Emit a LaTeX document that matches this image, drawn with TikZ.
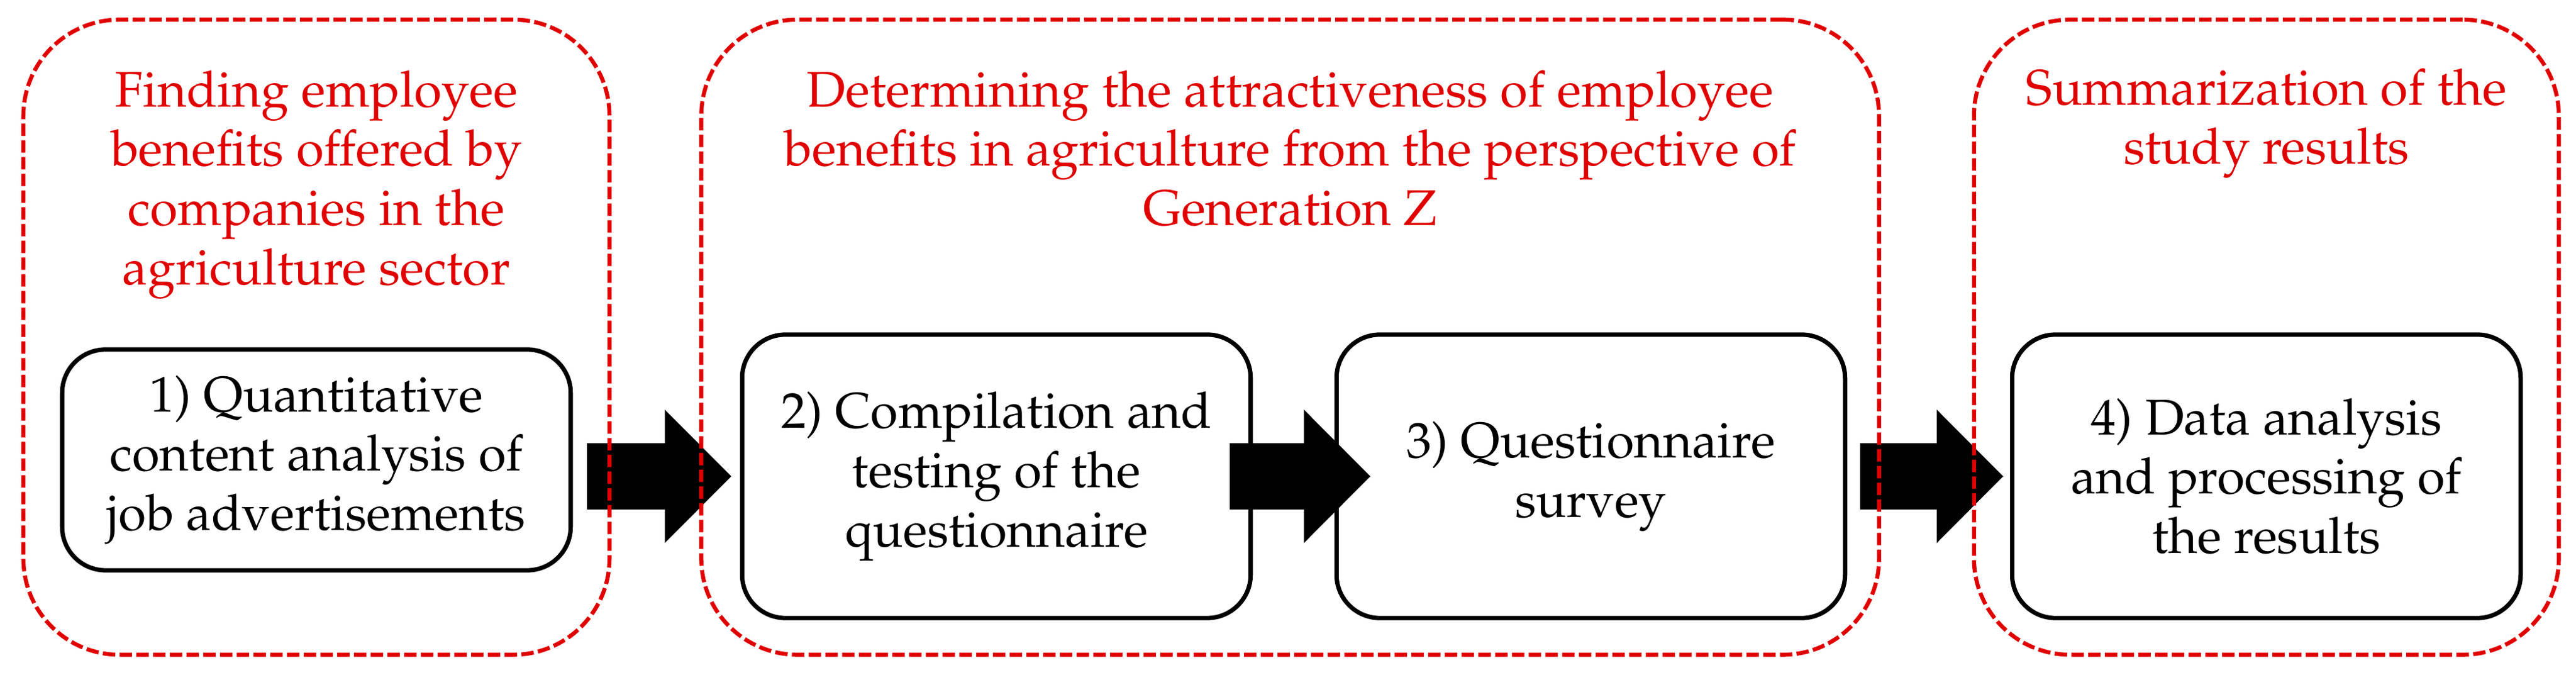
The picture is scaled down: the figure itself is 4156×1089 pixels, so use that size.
\documentclass[tikz,border=0pt]{standalone}
\usepackage[T1]{fontenc}
\renewcommand{\rmdefault}{ppl}
\usepackage{tikz}
\tikzset{
	>=latex,
}
\usetikzlibrary{arrows.meta}
\definecolor{titlered}{RGB}{224,0,0}
\tikzstyle{group}=[draw=titlered,line width=1.85pt,dash pattern=on 0.2cm off 0.07cm,rounded corners=1.55cm,minimum height=10.24cm]
\tikzstyle{title}=[text=titlered,align=center,font=\fontsize{23}{27.2}\selectfont,inner sep=0pt,anchor=north]
\tikzstyle{stepbox}=[draw,line width=2pt,rounded corners=0.7cm,fill=white,align=center,font=\fontsize{23}{27.2}\selectfont,minimum width=8.2cm]
\tikzstyle{bigarrow}=[line width=1.07cm,-{Triangle[length=1.07cm,width=2.15cm,line width=0pt]}]

\begin{document}
\begin{tikzpicture}[x=0.01cm,y=-0.01cm]
      \useasboundingbox (0,0) rectangle (4156,1089);
      \node[stepbox,minimum height=3.56cm] (b1) at (510.5,742) {1) Quantitative\\content analysis of\\job advertisements};
      \node[stepbox,minimum height=4.57cm] (b2) at (1607.5,768.5) {2) Compilation and\\testing of the\\questionnaire};
      \node[stepbox,minimum height=4.57cm] (b3) at (2566.5,768.5) {3) Questionnaire\\survey};
      \node[stepbox,minimum height=4.57cm] (b4) at (3656.5,768.5) {4) Data analysis\\and processing of\\the results};
      \draw[bigarrow,shorten <=0.23cm,shorten >=0.14cm] (b1.east |- b2.west) -- (b2.west);
      \draw[bigarrow,shorten <=-0.37cm,shorten >=-0.58cm] (b2.east) -- (b3.west);
      \draw[bigarrow,shorten <=0.21cm,shorten >=0.11cm] (b3.east) -- (b4.west);
      \node[group,minimum width=9.45cm] (g1) at (510.5,544) {};
      \node[group,minimum width=18.99cm] (g2) at (2081.5,544) {};
      \node[group,minimum width=9.43cm] (g3) at (3656.5,544) {};
      \node[title] (t1) at (510.5,113) {Finding employee\\benefits offered by\\companies in the\\agriculture sector};
      \node[title] (t2) at (2081.5,113) {Determining the attractiveness of employee\\benefits in agriculture from the perspective of\\Generation Z};
      \node[title] (t3) at (3656.5,110) {Summarization of the\\study results};
    \end{tikzpicture}
\end{document}
